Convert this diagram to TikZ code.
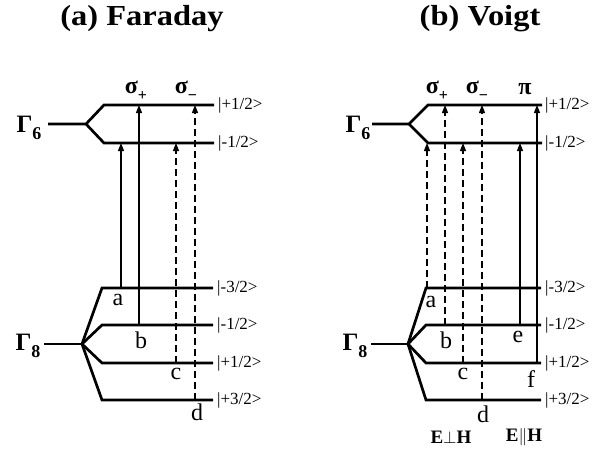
\documentclass[tikz,border=0pt]{standalone}
\usepackage{fontspec}
\setmainfont{Liberation Serif}
\usetikzlibrary{arrows.meta}
\newcommand{\fs}[1]{\fontsize{#1}{#1}\selectfont}
\newcommand{\Gam}[1]{Γ\raisebox{-0.3em}{\fs{18}#1}}
\newcommand{\sig}[1]{σ\raisebox{-0.3em}{\fs{16}#1}}
\begin{document}
\begin{tikzpicture}[x=1pt,y=-1pt,
  level/.style={line width=2.7pt,line join=miter},
  trans/.style={line width=1.3pt,-{Triangle[width=6pt,length=8pt]}},
  dsh/.style={dash pattern=on 7pt off 4pt},
  ket/.style={anchor=west,inner sep=0pt,font=\fs{17}},
  lbl/.style={inner sep=0pt,font=\fs{24}},
  gam/.style={inner sep=0pt,font=\bfseries\fs{25}},
  sg/.style={inner sep=0pt,font=\bfseries\fs{24}},
  eh/.style={inner sep=0pt,font=\bfseries\fs{19}},
  ttl/.style={inner sep=0pt,font=\bfseries\fs{29}}]
\useasboundingbox (0,0) rectangle (606,451);
% ---------- titles
\node[ttl] (ta) at (142,19) {\scalebox{1.12}[1]{(a) Faraday}};
\node[ttl] (tb) at (480,19) {\scalebox{1.12}[1]{(b) Voigt}};
% ================= panel (a)
\coordinate (a6s) at (48,124); \coordinate (a6m) at (86,124);
\coordinate (a6u0) at (104,105); \coordinate (a6u1) at (214,105);
\coordinate (a6l0) at (104,143); \coordinate (a6l1) at (214,143);
\draw[level] (a6s) -- (a6m) -- (a6u0) -- (a6u1);
\draw[level] (a6m) -- (a6l0) -- (a6l1);
\node[gam] (ag6) at (29,128) {\Gam{6}};
\node[ket] (ak1) at (218,105) {|+1/2>};
\node[ket] (ak2) at (218,143) {|-1/2>};
\coordinate (a8s) at (44,344); \coordinate (a8m) at (82,344);
\foreach \y/\n in {288/1,325/2,363/3,400/4}{
  \coordinate (a8l\n) at (102,\y); \coordinate (a8r\n) at (213,\y);
  \draw[level] (a8m) -- (a8l\n) -- (a8r\n);
}
\draw[level] (a8s) -- (a8m);
\node[gam] (ag8) at (28,346) {\Gam{8}};
\node[ket] (ak3) at (217,288) {|-3/2>};
\node[ket] (ak4) at (217,325) {|-1/2>};
\node[ket] (ak5) at (217,363) {|+1/2>};
\node[ket] (ak6) at (217,400) {|+3/2>};
% transitions (a)
\coordinate (aa0) at (121,288); \coordinate (aa1) at (121,143);
\coordinate (ab0) at (139,325); \coordinate (ab1) at (139,105);
\coordinate (ac0) at (176,363); \coordinate (ac1) at (176,143);
\coordinate (ad0) at (195,400); \coordinate (ad1) at (195,105);
\draw[trans] (aa0) -- (aa1);
\draw[trans] (ab0) -- (ab1);
\draw[trans,dsh] (ac0) -- (ac1);
\draw[trans,dsh] (ad0) -- (ad1);
\node[lbl] (la) at (118,300) {a};
\node[lbl] (lb) at (141,340) {b};
\node[lbl] (lc) at (176,374) {c};
\node[lbl] (ld) at (197,412) {d};
\node[sg] (asp) at (136,91) {\sig{+}};
\node[sg] (asm) at (186,91) {\sig{−}};
% ================= panel (b)
\coordinate (b6s) at (372,124); \coordinate (b6m) at (409,124);
\coordinate (b6u0) at (428,105); \coordinate (b6u1) at (542,105);
\coordinate (b6l0) at (428,143); \coordinate (b6l1) at (542,143);
\draw[level] (b6s) -- (b6m) -- (b6u0) -- (b6u1);
\draw[level] (b6m) -- (b6l0) -- (b6l1);
\node[gam] (bg6) at (358,128) {\Gam{6}};
\node[ket] (bk1) at (545,105) {|+1/2>};
\node[ket] (bk2) at (545,143) {|-1/2>};
\coordinate (b8s) at (371,344); \coordinate (b8m) at (408,344);
\foreach \y/\n in {288/1,325/2,363/3,400/4}{
  \coordinate (b8l\n) at (426,\y); \coordinate (b8r\n) at (541,\y);
  \draw[level] (b8m) -- (b8l\n) -- (b8r\n);
}
\draw[level] (b8s) -- (b8m);
\node[gam] (bg8) at (355,346) {\Gam{8}};
\node[ket] (bk3) at (545,288) {|-3/2>};
\node[ket] (bk4) at (545,325) {|-1/2>};
\node[ket] (bk5) at (545,363) {|+1/2>};
\node[ket] (bk6) at (545,400) {|+3/2>};
% transitions (b)
\coordinate (ba0) at (427,288); \coordinate (ba1) at (427,143);
\coordinate (bb0) at (445,325); \coordinate (bb1) at (445,105);
\coordinate (bc0) at (463,363); \coordinate (bc1) at (463,143);
\coordinate (bd0) at (482,400); \coordinate (bd1) at (482,105);
\coordinate (be0) at (520,325); \coordinate (be1) at (520,143);
\coordinate (bf0) at (537,363); \coordinate (bf1) at (537,105);
\draw[trans,dsh] (ba0) -- (ba1);
\draw[trans,dsh] (bb0) -- (bb1);
\draw[trans,dsh] (bc0) -- (bc1);
\draw[trans,dsh] (bd0) -- (bd1);
\draw[trans] (be0) -- (be1);
\draw[trans] (bf0) -- (bf1);
\node[lbl] (lba) at (431,302) {a};
\node[lbl] (lbb) at (446,340) {b};
\node[lbl] (lbc) at (463,374) {c};
\node[lbl] (lbd) at (483,414) {d};
\node[lbl] (lbe) at (518,337) {e};
\node[lbl] (lbf) at (531,379) {f};
\node[sg] (bsp) at (437,91) {\sig{+}};
\node[sg] (bsm) at (477,91) {\sig{−}};
\node[sg] (bpi) at (525,89) {π};
\node[eh] (eperp) at (451,437) {E$\perp$H};
\node[eh] (epar) at (524,437) {E$\|$H};
\end{tikzpicture}
\end{document}
